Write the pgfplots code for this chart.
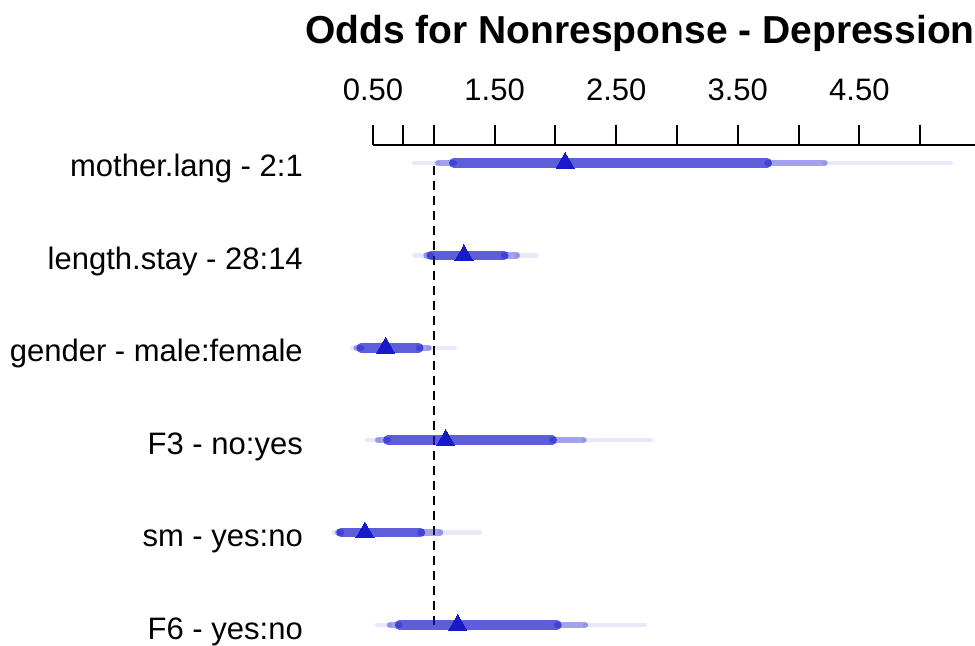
\documentclass[border=0pt]{standalone}
\usepackage{pgfplots}
\usepackage{pgfplotstable}
\pgfplotsset{compat=1.18}
\usepackage{fontspec}
\setmainfont{Liberation Sans}
\definecolor{ci}{rgb}{0.1,0.1,0.8}
\definecolor{pt}{rgb}{0.1,0.1,0.8}
\pgfplotstableread{
row lo99 lo95 lo90 est hi90 hi95 hi99
6 0.839 1.036 1.164 2.08 3.743 4.213 5.254
5 0.842 0.941 0.979 1.248 1.576 1.682 1.844
4 0.327 0.365 0.403 0.604 0.877 0.956 1.172
3 0.450 0.543 0.622 1.098 1.974 2.230 2.789
2 0.176 0.2145 0.238 0.434 0.891 1.051 1.378
1 0.532 0.640 0.718 1.197 2.013 2.243 2.734
}\ors
\begin{document}
\begin{tikzpicture}
\begin{axis}[
  scale only axis,
  width=602pt, height=500pt,
  xmin=0.5, xmax=5.4507,
  ymin=0.7835, ymax=6.1948,
  axis x line*=top,
  axis y line*=left,
  y axis line style={draw=none},
  x axis line style={line width=2pt, black},
  tick align=outside,
  xtick={0.5,0.75,1,1.5,2,2.5,3,3.5,4,4.5,5},
  xticklabels={0.50,{},{},1.50,{},2.50,{},3.50,{},4.50,{}},
  major tick length=20pt,
  xtick style={line width=2pt, black},
  ytick={1,2,3,4,5,6},
  yticklabels={F6 - yes:no, sm - yes:no, F3 - no:yes, gender - male:female, length.stay - 28:14, mother.lang - 2:1},
  ytick style={draw=none},
  ticklabel style={font=\fontsize{31}{36}\selectfont},
  xticklabel style={anchor=base, inner sep=0pt, yshift=24pt},
  yticklabel style={anchor=base east, inner sep=0pt, xshift=-50pt, yshift=-14pt},
  /pgf/number format/assume math mode=true,
  clip=false,
]
\coordinate (bbsw) at (axis cs:-2.5674,0.7835);
\coordinate (bbne) at (axis cs:5.4507,7.764);
\addplot[black, line width=2pt, dash pattern=on 9pt off 6pt] coordinates {(1,1) (1,6)};
% 0.99 band (outer segments)
\addplot[draw=none, mark=none, error bars/.cd, x dir=plus, x explicit, error mark=none,
  error bar style={line width=4.5pt, ci, opacity=0.1, line cap=round}]
  table[x=lo99, y=row, x error expr=\thisrow{lo95}-\thisrow{lo99}] {\ors};
\addplot[draw=none, mark=none, error bars/.cd, x dir=plus, x explicit, error mark=none,
  error bar style={line width=4.5pt, ci, opacity=0.1, line cap=round}]
  table[x=hi95, y=row, x error expr=\thisrow{hi99}-\thisrow{hi95}] {\ors};
% 0.95 band
\addplot[draw=none, mark=none, error bars/.cd, x dir=plus, x explicit, error mark=none,
  error bar style={line width=6.5pt, ci, opacity=0.4, line cap=round}]
  table[x=lo95, y=row, x error expr=\thisrow{lo90}-\thisrow{lo95}] {\ors};
\addplot[draw=none, mark=none, error bars/.cd, x dir=plus, x explicit, error mark=none,
  error bar style={line width=6.5pt, ci, opacity=0.4, line cap=round}]
  table[x=hi90, y=row, x error expr=\thisrow{hi95}-\thisrow{hi90}] {\ors};
% 0.9 band
\addplot[draw=none, mark=none, error bars/.cd, x dir=plus, x explicit, error mark=none,
  error bar style={line width=9.5pt, ci, opacity=0.7, line cap=round}]
  table[x=lo90, y=row, x error expr=\thisrow{hi90}-\thisrow{lo90}] {\ors};
% point estimates
\addplot[only marks, color=pt, mark=triangle*, mark size=10.5pt, mark options={fill=pt, draw=pt, line width=0pt}]
  table[x=est, y=row] {\ors};
\node[anchor=base west, inner sep=0pt, font=\bfseries\fontsize{39}{44}\selectfont]
  at (axis cs:-0.059,7.288) {Odds for Nonresponse - Depression};
\end{axis}
\pgfresetboundingbox
\path (bbsw) rectangle (bbne);
\end{tikzpicture}
\end{document}
